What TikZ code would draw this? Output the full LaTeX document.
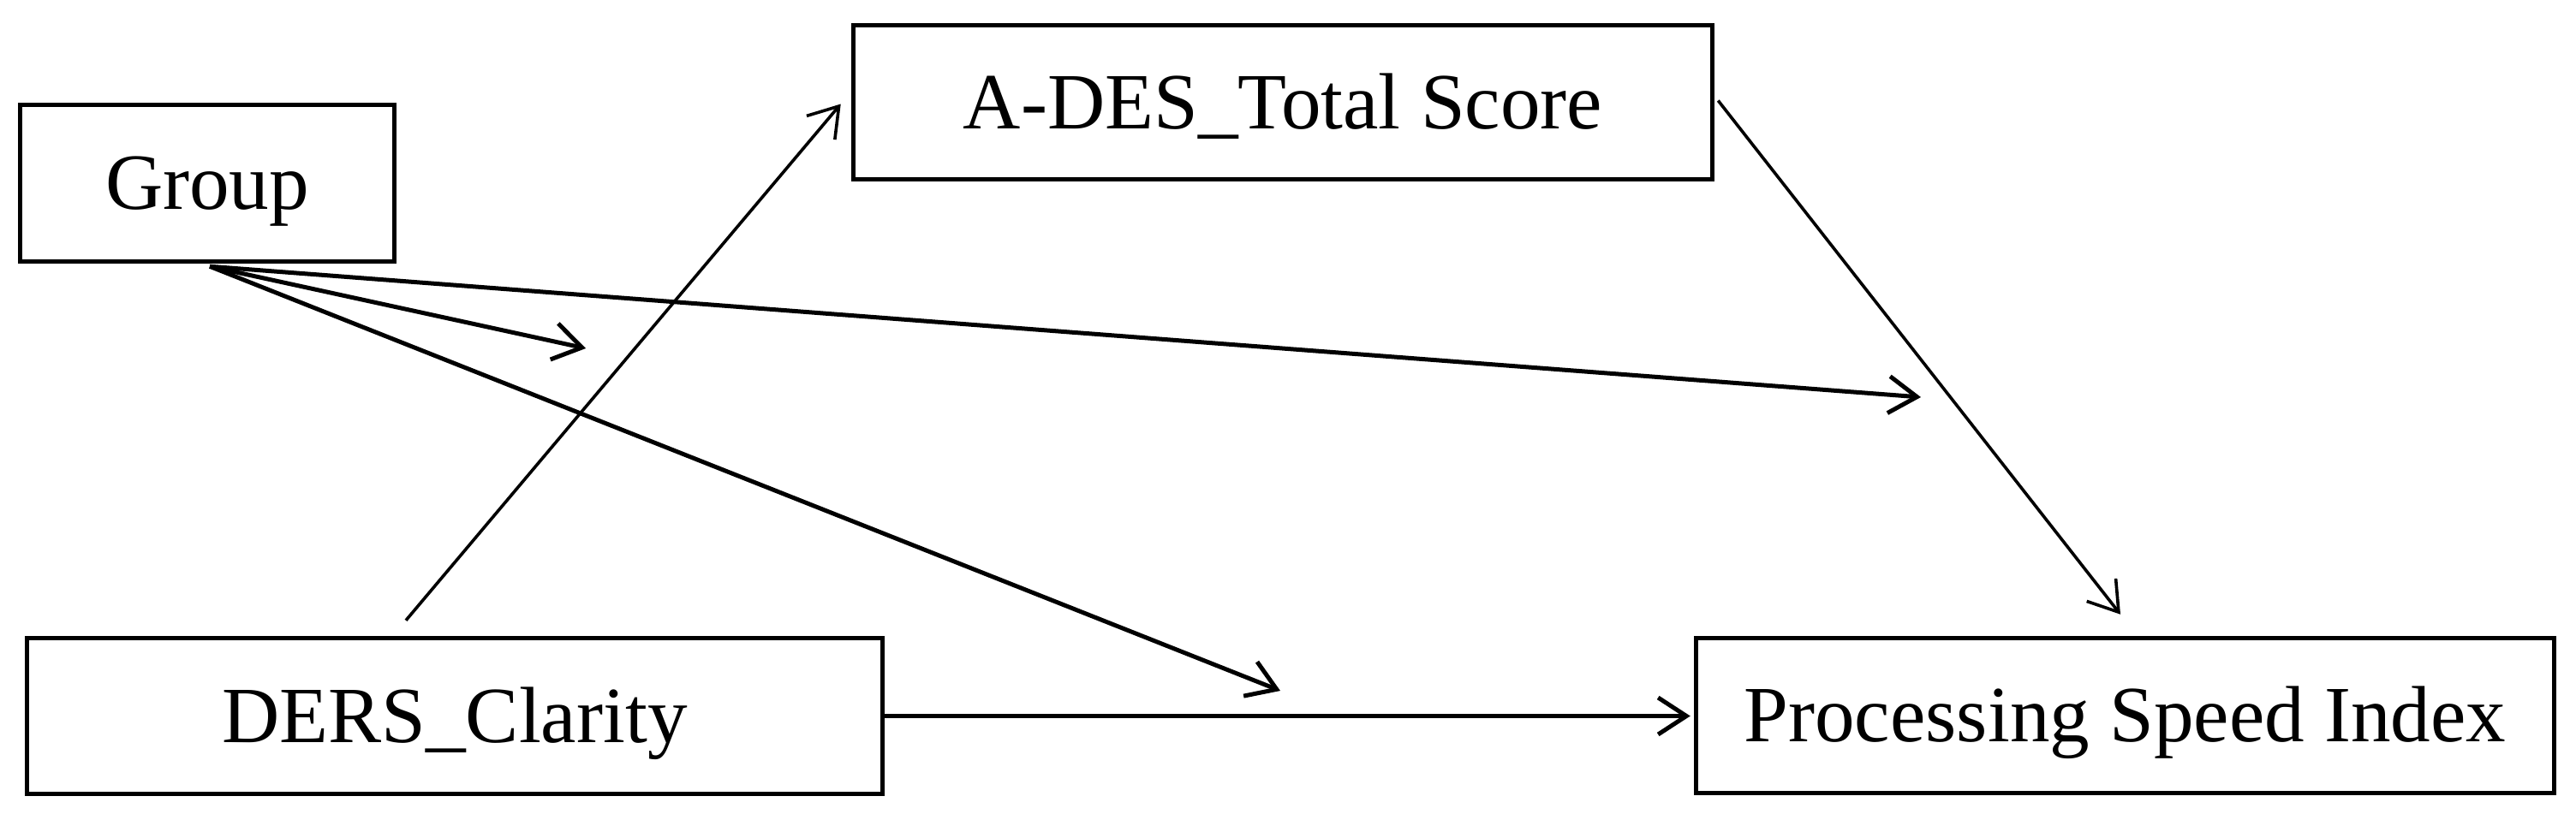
\documentclass[tikz,border=0pt]{standalone}
\usepackage{fontspec}
\setmainfont{Liberation Serif}
\usetikzlibrary{arrows.meta}
\begin{document}
\begin{tikzpicture}[
  box/.style={draw, line width=0.055cm, inner sep=0pt, text height=0.70cm, text depth=0.09cm,
    font=\fontsize{26.5}{30}\selectfont, align=center},
  barb/.style={-{Straight Barb[length=3.3mm,width=4.3mm]}},
  thick link/.style={barb, line width=0.05cm},
  thin link/.style={barb, line width=0.036cm}
]
\useasboundingbox (0,0) rectangle (30.08,9.57);
\node[box, minimum width=4.37cm, minimum height=1.83cm] (group) at (2.42,7.43) {Group};
\node[box, minimum width=10.03cm, minimum height=1.80cm] (ades) at (14.98,8.375) {A-DES\_Total Score};
\node[box, minimum width=9.99cm, minimum height=1.82cm] (ders) at (5.31,1.205) {DERS\_Clarity};
\node[box, minimum width=10.02cm, minimum height=1.81cm] (psi) at (24.815,1.21) {Processing Speed Index};

\coordinate (gsrc) at ([xshift=0.03cm,yshift=-0.03cm]group.south);
\coordinate (tipA) at (6.84,5.50);
\coordinate (tipB) at (22.43,4.93);
\coordinate (tipC) at (14.95,1.50);

\draw[thin link] ([xshift=-0.57cm,yshift=0.18cm]ders.north) -- ([xshift=-0.12cm,yshift=-0.02cm]ades.west);
\draw[thin link] ([xshift=0.04cm,yshift=0.02cm]ades.east) -- ([xshift=-0.055cm,yshift=0.25cm]psi.north);
\draw[thick link] (ders.east) -- ([xshift=-0.04cm]ders.east -| psi.west);
\draw[thick link] (gsrc) -- (tipA);
\draw[thick link] (gsrc) -- (tipB);
\draw[thick link] (gsrc) -- (tipC);
\end{tikzpicture}
\end{document}
